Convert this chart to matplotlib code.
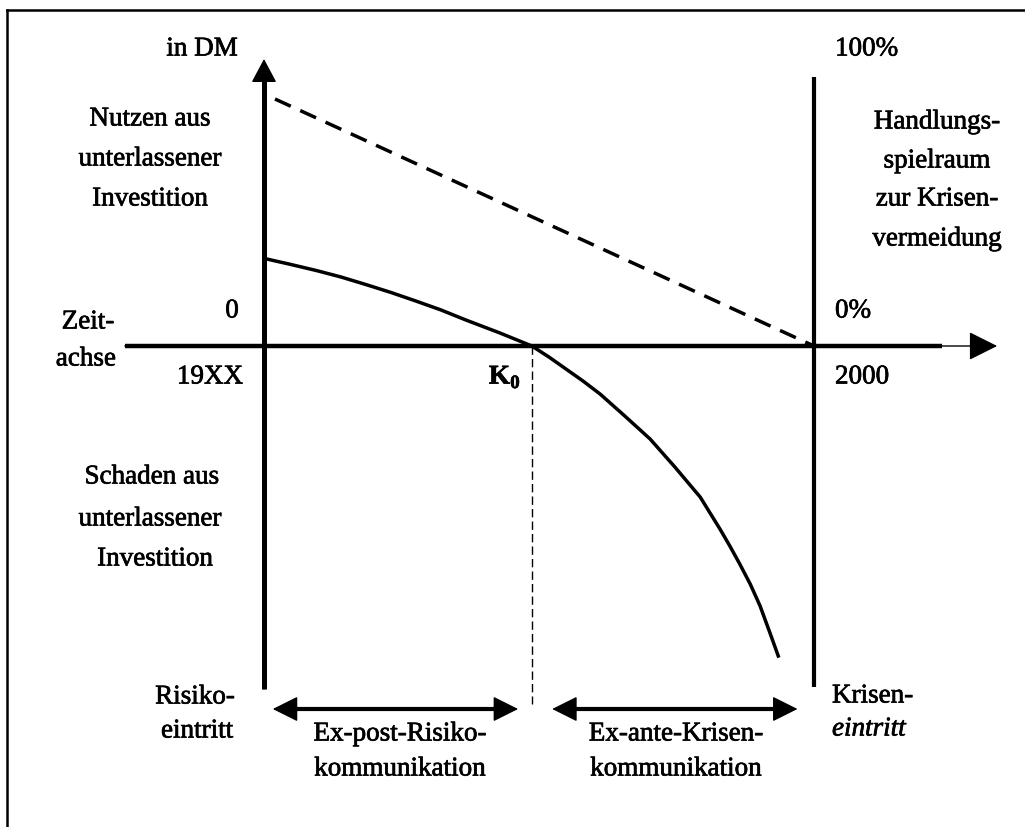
import matplotlib
matplotlib.use("Agg")
import matplotlib.pyplot as plt
import matplotlib.patheffects as pe
from matplotlib.lines import Line2D

plt.rcParams['font.family'] = ['Liberation Serif', 'DejaVu Serif']
plt.rcParams['mathtext.fontset'] = 'custom'
plt.rcParams['mathtext.bf'] = 'Liberation Serif:bold'
plt.rcParams['mathtext.rm'] = 'Liberation Serif'

W, H = 1025, 828

# time runs 0 (19XX) .. 1 (2000), value in DM (0 = time axis)
curve_t = [0.005, 0.049, 0.095, 0.14, 0.185, 0.231, 0.276, 0.322, 0.367,
           0.429, 0.487, 0.518, 0.549, 0.58, 0.611, 0.656, 0.702, 0.747,
           0.793, 0.811, 0.829, 0.847, 0.865, 0.884, 0.902, 0.92, 0.935]
curve_v = [0.87, 0.815, 0.755, 0.69, 0.615, 0.535, 0.45, 0.36, 0.26,
           0.13, 0.0, -0.11, -0.23, -0.35, -0.48, -0.70, -0.93, -1.21,
           -1.51, -1.67, -1.83, -2.00, -2.18, -2.38, -2.60, -2.87, -3.10]

# Handlungsspielraum: 100% at the start, 0% in 2000
room_t = [0.02, 1.0]
room_v = [2.47, 0.0]

k0 = 0.487
axis_top, axis_bottom = 2.87, -3.43
right_top, right_bottom = 2.69, -3.41
time_start, time_end = -0.253, 1.333
span_y = -3.63
k0_bottom = -3.58
span_left = [0.016, 0.462]
span_right = [0.524, 0.97]

fig = plt.figure(figsize=(W / 100, H / 100), dpi=100)
ax = fig.add_axes([0, 0, 1, 1])
ax.set_xlim(-264 / 550, (W - 264) / 550)
ax.set_ylim(-(H - 347) / 100, 347 / 100)
ax.axis('off')

# frame (only top and left edge are visible in the scan)
fig.add_artist(Line2D([7 / W, 1], [1 - 11 / H, 1 - 11 / H], color='black', lw=1.8,
                      transform=fig.transFigure))
fig.add_artist(Line2D([7 / W, 7 / W], [1 - 11 / H, 0], color='black', lw=1.8,
                      transform=fig.transFigure))


def head(tip, tail, length, width, style='-|>'):
    ax.annotate('', xy=tip, xytext=tail,
                arrowprops=dict(arrowstyle='%s,head_length=%s,head_width=%s' % (style, length, width),
                                mutation_scale=1, lw=1, color='black',
                                shrinkA=0, shrinkB=0))


# left value axis
ax.plot([0, 0], [axis_bottom, axis_top - 0.1], color='black', lw=3.6, solid_capstyle='butt')
head((0, axis_top), (0, axis_bottom), 15, 8)

# time axis
ax.plot([time_start, time_end - 0.1], [0, 0], color='black', lw=3.2, solid_capstyle='butt')
head((time_end, 0), (time_start, 0), 18, 9)

# right axis (Handlungsspielraum)
ax.plot([1, 1], [right_bottom, right_top], color='black', lw=3.0, solid_capstyle='butt')

# curves
ax.plot(room_t, room_v, color='black', lw=2.5, linestyle=(0, (5, 3)))
ax.plot(curve_t, curve_v, color='black', lw=2.5, solid_joinstyle='round')
ax.plot([k0, k0], [0, k0_bottom], color='black', lw=1.0, linestyle=(0, (6, 3)))

# communication phases
for a, b in [span_left, span_right]:
    ax.plot([a + 0.03, b - 0.03], [span_y, span_y], color='black', lw=3.0)
    head((b, span_y), (a, span_y), 16, 8, style='<|-|>')

fs = 19.5
ink = [pe.withStroke(linewidth=0.5, foreground='black')]


def label(x, y, s, ha='center', **kw):
    fig.text(x / W, 1 - y / H, s, ha=ha, va='center', fontsize=fs,
             path_effects=ink, **kw)


label(202, 50, 'in DM')
label(150, 120, 'Nutzen aus')
label(150, 160, 'unterlassener')
label(150, 200, 'Investition')
label(232, 312, '0')
label(88, 323, 'Zeit-')
label(86, 360, 'achse')
label(210, 378, '19XX')
label(505, 378, r'$\mathbf{K}_{\mathbf{0}}$')
label(152, 478, 'Schaden aus')
label(150, 520, 'unterlassener')
label(155, 560, 'Investition')
label(195, 698, 'Risiko-')
label(197, 732, 'eintritt')
label(400, 735, 'Ex-post-Risiko-')
label(400, 770, 'kommunikation')
label(676, 735, 'Ex-ante-Krisen-')
label(676, 770, 'kommunikation')
label(835, 50, '100%', ha='left')
label(937, 123, 'Handlungs-')
label(937, 162, 'spielraum')
label(937, 200, 'zur Krisen-')
label(937, 240, 'vermeidung')
label(835, 312, '0%', ha='left')
label(835, 378, '2000', ha='left')
label(832, 697, 'Krisen-', ha='left')
label(832, 730, 'eintritt', ha='left', style='italic')

fig.savefig('out.png', dpi=100)
